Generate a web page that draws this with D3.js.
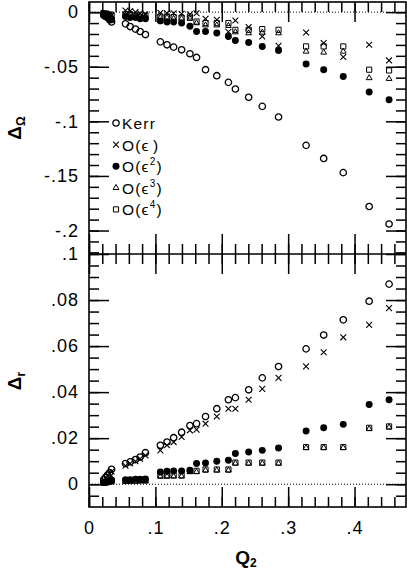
<!DOCTYPE html>
<html>
<head>
<meta charset="utf-8">
<script src="https://cdn.jsdelivr.net/npm/d3@7"></script>
<style>
  body { margin: 0; background: #fff; }
  svg { display: block; }
  text { font-family: "Liberation Sans", Arial, Helvetica, sans-serif; fill: #000; }
</style>
</head>
<body>
<div id="chart"></div>
<script>
// Q2 values, shared by every series
var q = [0.022, 0.025, 0.028, 0.031, 0.034,
         0.055, 0.062, 0.070, 0.077, 0.085,
         0.1075, 0.1175, 0.1275, 0.1395, 0.152, 0.162, 0.1755, 0.1925, 0.210, 0.2205, 0.2405, 0.261, 0.2855,
         0.327, 0.3535, 0.383, 0.422, 0.452];

// top panel: Delta_Omega
var kerrOmega = [-0.002, -0.004, -0.005, -0.007, -0.009,
                 -0.0107, -0.0132, -0.0155, -0.0177, -0.0205,
                 -0.0272, -0.0299, -0.032, -0.0345, -0.0381, -0.0415, -0.0527, -0.0582, -0.0643, -0.0704, -0.078, -0.0863, -0.096,
                 -0.122, -0.134, -0.147, -0.178, -0.194];
var eps1Omega = [-0.001, -0.001, -0.002, -0.002, -0.003,
                 0.0015, 0.001, 0, -0.001, -0.002,
                 -0.0005, -0.001, -0.001, -0.0015, -0.002, -0.001, -0.006, -0.007, -0.018, -0.0077, -0.0137, -0.0223, -0.0308,
                 -0.0186, -0.0283, -0.0411, -0.0299, -0.0442];
var eps2Omega = [-0.003, -0.004, -0.005, -0.006, -0.007,
                 -0.004, -0.005, -0.005, -0.006, -0.006,
                 -0.008, -0.009, -0.009, -0.010, -0.013, -0.0177, -0.0177, -0.019, -0.0223, -0.026, -0.0278, -0.0314, -0.0351,
                 -0.0475, -0.0527, -0.0589, -0.0731, -0.0802];
var eps3Omega = [-0.002, -0.003, -0.003, -0.004, -0.004,
                 -0.003, -0.003, -0.004, -0.004, -0.004,
                 -0.005, -0.005, -0.006, -0.006, -0.006, -0.010, -0.012, -0.012, -0.0125, -0.0183, -0.0192, -0.0186, -0.0192,
                 -0.036, -0.0369, -0.036, -0.0603, -0.061];
var eps4Omega = [-0.001, -0.002, -0.002, -0.003, -0.003,
                 -0.002, -0.002, -0.003, -0.003, -0.003,
                 -0.004, -0.004, -0.0045, -0.005, -0.004, -0.0086, -0.010, -0.010, -0.010, -0.0162, -0.0162, -0.0155, -0.0162,
                 -0.0314, -0.0314, -0.0314, -0.0527, -0.0534];

// bottom panel: Delta_r
var kerrR = [0.002, 0.003, 0.004, 0.005, 0.0065,
             0.009, 0.0097, 0.0107, 0.0118, 0.0137,
             0.0169, 0.0183, 0.0202, 0.0226, 0.0255, 0.0263, 0.0294, 0.0328, 0.0367, 0.0376, 0.041, 0.0462, 0.0511,
             0.0588, 0.0648, 0.0714, 0.0795, 0.0869];
var eps1R = [0.0015, 0.0025, 0.0035, 0.0045, 0.0055,
             0.008, 0.009, 0.010, 0.011, 0.0125,
             0.0147, 0.0169, 0.0183, 0.0205, 0.0234, 0.0237, 0.0263, 0.0294, 0.0328, 0.0328, 0.0367, 0.0414, 0.0462,
             0.0512, 0.0573, 0.0638, 0.0692, 0.0765];
var eps2R = [0.0008, 0.001, 0.0012, 0.0015, 0.0018,
             0.002, 0.002, 0.0022, 0.0022, 0.0023,
             0.0053, 0.0056, 0.0058, 0.0058, 0.0061, 0.009, 0.0092, 0.010, 0.0104, 0.0133, 0.014, 0.0147, 0.0157,
             0.0231, 0.0245, 0.026, 0.0346, 0.0367];
var eps3R = [0.0005, 0.0007, 0.0009, 0.001, 0.0012,
             0.0012, 0.0013, 0.0013, 0.0014, 0.0014,
             0.0033, 0.0033, 0.0034, 0.0034, 0.0053, 0.0053, 0.006, 0.006, 0.006, 0.009, 0.009, 0.009, 0.009,
             0.0158, 0.0158, 0.0158, 0.024, 0.0247];
var eps4R = [0.0006, 0.0008, 0.001, 0.0011, 0.0013,
             0.0014, 0.0015, 0.0015, 0.0016, 0.0016,
             0.0039, 0.0039, 0.0039, 0.0039, 0.0058, 0.0058, 0.0064, 0.0064, 0.0064, 0.0094, 0.0094, 0.0094, 0.0094,
             0.0161, 0.0161, 0.0161, 0.0245, 0.0251];

var xMajor = [0, 0.1, 0.2, 0.3, 0.4];
var yTopMajor = [0, -0.05, -0.1, -0.15, -0.2];
var yBotMajor = [0, 0.02, 0.04, 0.06, 0.08, 0.1];

var series = [
  {label: "Kerr", power: null, shape: "circle", top: kerrOmega, bot: kerrR},
  {label: "O(ϵ", power: "", shape: "times", top: eps1Omega, bot: eps1R},
  {label: "O(ϵ", power: "2", shape: "dot", top: eps2Omega, bot: eps2R},
  {label: "O(ϵ", power: "3", shape: "triangle", top: eps3Omega, bot: eps3R},
  {label: "O(ϵ", power: "4", shape: "square", top: eps4Omega, bot: eps4R}
];

var width = 407, height = 574,
    margin = {top: 2, right: 1, bottom: 67, left: 89},
    splitY = 254;

var x = d3.scaleLinear().domain([0, 0.4775]).range([margin.left, width - margin.right]);
var yTop = d3.scaleLinear().domain([-0.2215, 0.0093]).range([splitY, margin.top]);
var yBot = d3.scaleLinear().domain([-0.0099, 0.1]).range([height - margin.bottom, splitY]);

var xMinor = d3.range(0, 24).map(function(i) { return i * 0.02; });
var yTopMinor = d3.range(-22, 1).map(function(i) { return i / 100; });
var yBotMinor = d3.range(-1, 21).map(function(i) { return i * 0.005; });

function tickFmt(d) {
  return String(+d.toFixed(3)).replace(/^(-?)0\./, "$1.");
}

var symbols = {
  circle:   {type: d3.symbolCircle, size: 32, fill: "none", sw: 1.3},
  times:    {type: d3.symbolTimes, size: 24, fill: "none", sw: 1.1},
  dot:      {type: d3.symbolCircle, size: 38, fill: "#000", sw: 0},
  triangle: {type: d3.symbolTriangle2, size: 24, fill: "none", sw: 1},
  square:   {type: d3.symbolSquare2, size: 34, fill: "none", sw: 1}
};

function marker(sel, shape) {
  var s = symbols[shape];
  sel.attr("d", d3.symbol().type(s.type).size(s.size)())
    .attr("fill", s.fill)
    .attr("stroke", s.sw ? "#000" : "none")
    .attr("stroke-width", s.sw);
}

var svg = d3.select("#chart").append("svg")
    .attr("width", width)
    .attr("height", height);

function styleAxis(g) {
  g.select(".domain").remove();
  g.selectAll("line").attr("stroke", "#000").attr("stroke-width", 1.5);
  g.attr("font-size", 18).attr("font-family", "Liberation Sans, Arial, sans-serif")
    .attr("letter-spacing", 1);
}

function addAxis(axis, tx, ty, values, len, labels) {
  axis.tickValues(values).tickSizeInner(-len).tickSizeOuter(0);
  if (!labels) axis.tickFormat("");
  else axis.tickFormat(tickFmt);
  return svg.append("g")
    .attr("transform", "translate(" + tx + "," + ty + ")")
    .call(axis)
    .call(styleAxis);
}

var left = margin.left, right = width - margin.right, bottom = height - margin.bottom;

// top panel axes
addAxis(d3.axisLeft(yTop), left, 0, yTopMinor, 10, false);
addAxis(d3.axisLeft(yTop).tickPadding(10), left, 0, yTopMajor, 20, true);
addAxis(d3.axisRight(yTop), right, 0, yTopMinor, 10, false);
addAxis(d3.axisRight(yTop), right, 0, yTopMajor, 20, false);
addAxis(d3.axisTop(x), 0, margin.top, xMinor, 10, false);
addAxis(d3.axisTop(x), 0, margin.top, xMajor, 20, false);
addAxis(d3.axisBottom(x), 0, splitY, xMinor, 10, false);
addAxis(d3.axisBottom(x), 0, splitY, xMajor, 20, false);

// bottom panel axes
addAxis(d3.axisLeft(yBot), left, 0, yBotMinor, 10, false);
addAxis(d3.axisLeft(yBot).tickPadding(10), left, 0, yBotMajor, 20, true);
addAxis(d3.axisRight(yBot), right, 0, yBotMinor, 10, false);
addAxis(d3.axisRight(yBot), right, 0, yBotMajor, 20, false);
addAxis(d3.axisTop(x), 0, splitY, xMinor, 10, false);
addAxis(d3.axisTop(x), 0, splitY, xMajor, 20, false);
addAxis(d3.axisBottom(x), 0, bottom, xMinor, 10, false);
addAxis(d3.axisBottom(x).tickPadding(14), 0, bottom, xMajor, 20, true);

// frame
svg.append("rect")
  .attr("x", left).attr("y", margin.top)
  .attr("width", right - left).attr("height", bottom - margin.top)
  .attr("fill", "none").attr("stroke", "#000").attr("stroke-width", 1.6);
svg.append("line")
  .attr("x1", left).attr("x2", right).attr("y1", splitY).attr("y2", splitY)
  .attr("stroke", "#000").attr("stroke-width", 1.6);

// dotted zero lines
[yTop, yBot].forEach(function(y) {
  svg.append("line")
    .attr("x1", left).attr("x2", right)
    .attr("y1", y(0)).attr("y2", y(0))
    .attr("stroke", "#000").attr("stroke-width", 1)
    .attr("stroke-dasharray", "1,2");
});

// points
series.forEach(function(s) {
  [["top", yTop], ["bot", yBot]].forEach(function(p) {
    var vals = s[p[0]], y = p[1];
    svg.append("g").selectAll("path")
      .data(q.map(function(d, i) { return {q: d, v: vals[i]}; }))
      .enter().append("path")
      .attr("transform", function(d) { return "translate(" + x(d.q) + "," + y(d.v) + ")"; })
      .call(marker, s.shape);
  });
});

// legend
var legend = svg.append("g").selectAll(".legend")
    .data(series)
    .enter().append("g")
    .attr("class", "legend")
    .attr("transform", function(d, i) { return "translate(116," + (123 + i * 21.6) + ")"; });

legend.append("path").each(function(d) { d3.select(this).call(marker, d.shape); });

var ltext = legend.append("text")
    .attr("x", 6)
    .attr("y", 6)
    .attr("font-size", 15.5)
    .attr("letter-spacing", 1.2);
ltext.append("tspan").text(function(d) { return d.label; });
ltext.filter(function(d) { return d.power !== null; }).each(function(d) {
  var t = d3.select(this);
  t.append("tspan").attr("dy", -7).attr("font-size", 10).text(d.power || "\u2009");
  t.append("tspan").attr("dy", 7).text(")");
});

// axis titles
var xt = svg.append("text")
    .attr("x", 246).attr("y", 564)
    .attr("text-anchor", "middle")
    .attr("font-weight", "bold")
    .attr("font-size", 19);
xt.append("tspan").text("Q");
xt.append("tspan").attr("dy", 3).attr("font-size", 12).text("2");

function yTitle(cy, sub) {
  var t = svg.append("text")
      .attr("transform", "translate(21," + cy + ") rotate(-90)")
      .attr("text-anchor", "middle")
      .attr("font-weight", "bold")
      .attr("font-size", 19);
  t.append("tspan").text("Δ");
  t.append("tspan").attr("dy", 4).attr("font-size", 12).text(sub);
}
yTitle(128, "Ω");
yTitle(381, "r");
</script>
</body>
</html>
